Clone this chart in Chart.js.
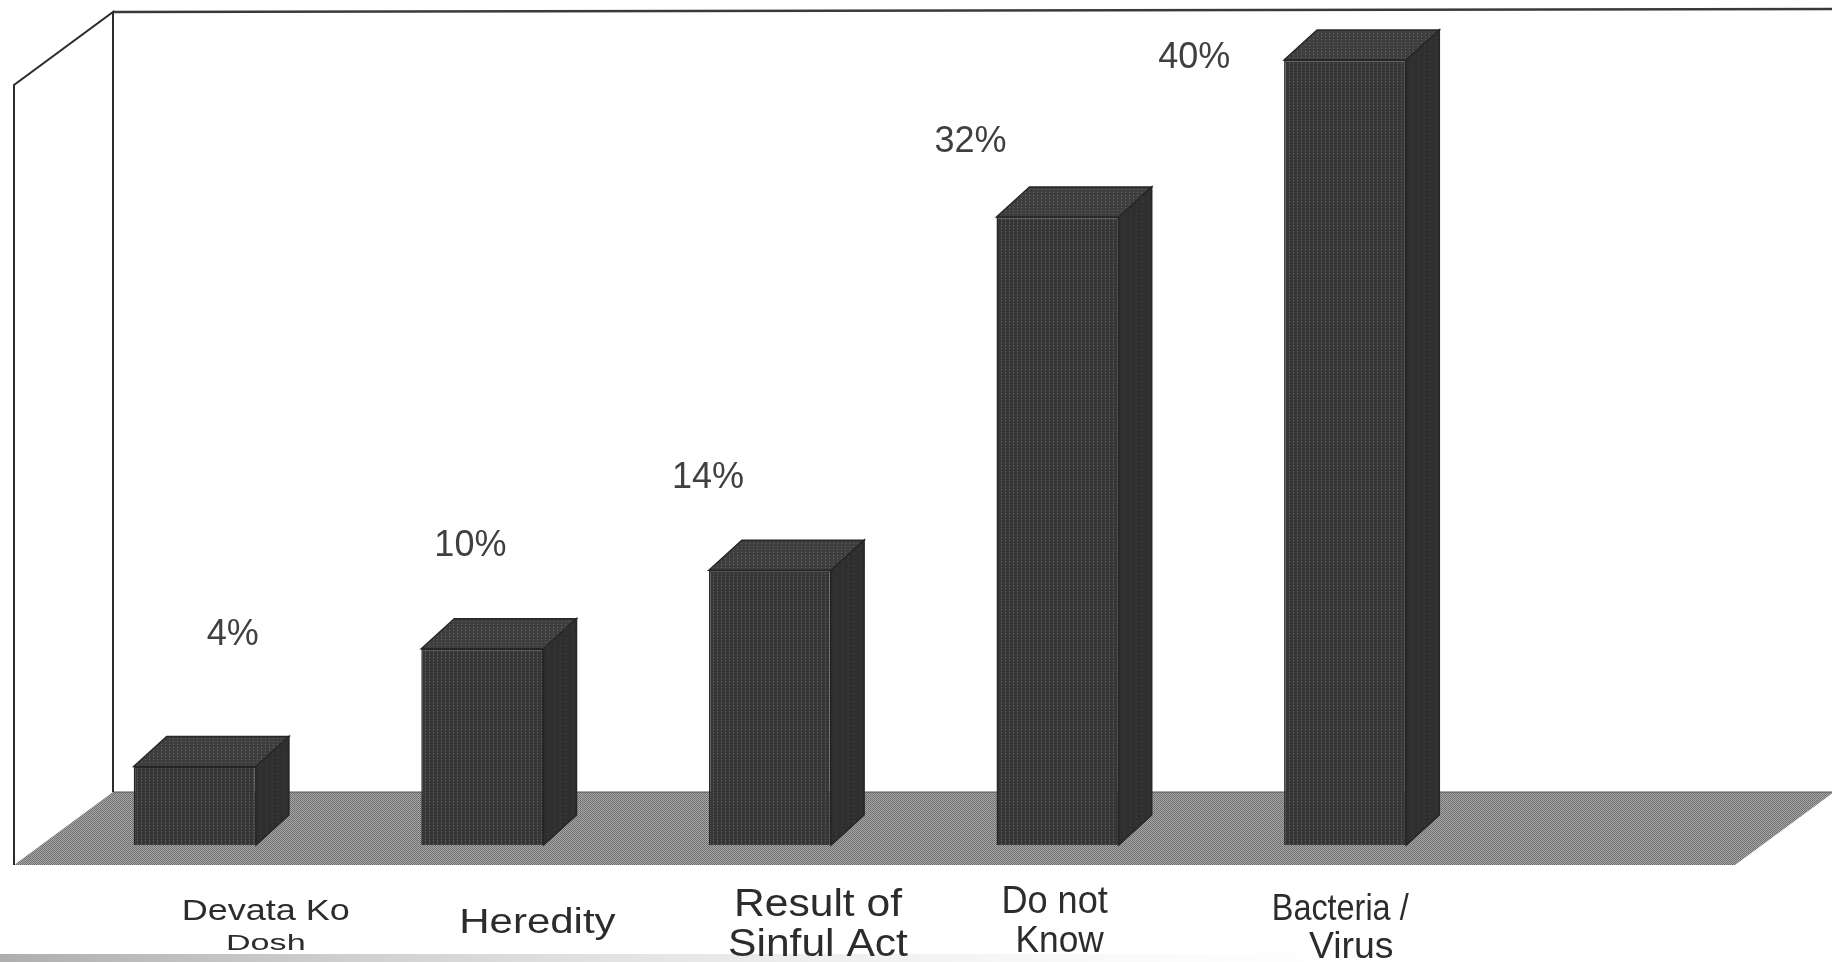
<!DOCTYPE html>
<html>
<head>
<meta charset="utf-8">
<script src="https://cdn.jsdelivr.net/npm/chart.js@4"></script>
<style>
  html, body { margin: 0; padding: 0; background: #fff; }
  #wrap { width: 1832px; height: 962px; }
</style>
</head>
<body>
<div id="wrap"><canvas id="chart" width="1832" height="962"></canvas></div>
<script>
const categories = ["Devata Ko Dosh", "Heredity", "Result of Sinful Act", "Do not Know", "Bacteria / Virus"]
const categoryLines = [["Devata Ko", "Dosh"], ["Heredity"], ["Result of", "Sinful Act"], ["Do not", "Know"], ["Bacteria /", "Virus"]]
const percentValues = [4, 10, 14, 32, 40]
const valueLabels = ["4%", "10%", "14%", "32%", "40%"]

// label placement, pixels relative to each bar (x centre / top / base)
const valueLabelOffsets = [[38, -131], [-12, -103], [-62, -92], [-87, -75], [-151, -2]]
const categoryLineStyle = [
  [{ dx: 71, dy: 75, size: 30, sx: 1.2 }, { dx: 71, dy: 105, size: 22, sx: 1.55 }],
  [{ dx: 55, dy: 88, size: 35, sx: 1.2 }],
  [{ dx: 48, dy: 71, size: 38, sx: 1.12 }, { dx: 48, dy: 111, size: 38, sx: 1.12 }],
  [{ dx: -3, dy: 68, size: 38, sx: 0.95 }, { dx: 2, dy: 107, size: 36, sx: 0.98 }],
  [{ dx: -5, dy: 75, size: 36, sx: 0.9 }, { dx: 6, dy: 113, size: 36, sx: 1.04 }],
]

// 3d look
const BAR_DEPTH = [33, -30]
const BOX_DEPTH = [99, -73]
const FONT = '"Liberation Sans", Arial, sans-serif'

function makePattern(w, h, base, dots) {
  const c = document.createElement("canvas")
  c.width = w
  c.height = h
  const g = c.getContext("2d")
  g.fillStyle = base
  g.fillRect(0, 0, w, h)
  dots.forEach(([x, y, col]) => {
    g.fillStyle = col
    g.fillRect(x, y, 1, 1)
  })
  return g.createPattern(c, "repeat")
}

const ctx0 = document.getElementById("chart").getContext("2d")
const frontFill = makePattern(4, 3, "#363636", [[1, 0, "#5e5e5e"], [1, 1, "#4a4a4a"]])
const sideFill = makePattern(6, 4, "#2f2f2f", [[2, 1, "#454545"]])
const topFill = makePattern(4, 3, "#3e3e3e", [[1, 0, "#666666"]])
const floorFill = makePattern(2, 2, "#a6a6a6", [[0, 0, "#6c6c6c"], [1, 1, "#777777"]])

function poly(ctx, pts, fill, stroke) {
  ctx.beginPath()
  ctx.moveTo(pts[0][0], pts[0][1])
  pts.slice(1).forEach((p) => ctx.lineTo(p[0], p[1]))
  ctx.closePath()
  if (fill) {
    ctx.fillStyle = fill
    ctx.fill()
  }
  if (stroke) {
    ctx.strokeStyle = stroke
    ctx.lineWidth = 1.5
    ctx.stroke()
  }
}

const box3d = {
  id: "box3d",
  beforeDatasetsDraw(chart) {
    const { ctx, scales } = chart
    const W = chart.width
    const base = scales.y.getPixelForValue(0)
    const floorFront = base + 20
    const wallTop = scales.y.getPixelForValue(40) + 25
    const leftX = 14
    const [dx, dy] = BOX_DEPTH
    ctx.save()
    // floor
    poly(ctx, [[leftX, floorFront], [leftX + dx, floorFront + dy], [W + 2, floorFront + dy], [W + 2 - dx, floorFront]], floorFill, null)
    ctx.strokeStyle = "#555"
    ctx.lineWidth = 1
    ctx.beginPath()
    ctx.moveTo(leftX + dx, floorFront + dy)
    ctx.lineTo(W, floorFront + dy)
    ctx.stroke()
    // left wall
    ctx.strokeStyle = "#2b2b2b"
    ctx.lineWidth = 2
    ctx.beginPath()
    ctx.moveTo(leftX, floorFront)
    ctx.lineTo(leftX, wallTop)
    ctx.lineTo(leftX + dx, wallTop + dy)
    ctx.lineTo(leftX + dx, floorFront + dy)
    ctx.stroke()
    // back wall top edge
    ctx.lineWidth = 2.5
    ctx.strokeStyle = "#3a3a3a"
    ctx.beginPath()
    ctx.moveTo(leftX + dx, wallTop + dy)
    ctx.lineTo(W, wallTop + dy - 3)
    ctx.stroke()
    // scan shadow at page bottom
    const g = ctx.createLinearGradient(0, 0, 1400, 0)
    g.addColorStop(0, "rgba(120,120,120,0.6)")
    g.addColorStop(1, "rgba(235,235,235,0)")
    ctx.fillStyle = g
    ctx.fillRect(0, chart.height - 8, W, 8)
    ctx.restore()
  },
  afterDatasetsDraw(chart) {
    const { ctx } = chart
    const [dx, dy] = BAR_DEPTH
    const bars = chart.getDatasetMeta(0).data
    ctx.save()
    bars.forEach((bar, i) => {
      const { x, y, base, width } = bar.getProps(["x", "y", "base", "width"], true)
      const l = x - width / 2
      const r = x + width / 2
      poly(ctx, [[l, y], [l + dx, y + dy], [r + dx, y + dy], [r, y]], topFill, "#262626")
      poly(ctx, [[r, y], [r + dx, y + dy], [r + dx, base + dy], [r, base]], sideFill, "#262626")

      // value label
      ctx.fillStyle = "#404040"
      ctx.font = "36px " + FONT
      ctx.textAlign = "center"
      ctx.textBaseline = "middle"
      const [ox, oy] = valueLabelOffsets[i]
      ctx.fillText(valueLabels[i], x + ox, y + oy)

      // category label
      ctx.fillStyle = "#2c2c2c"
      ctx.textBaseline = "alphabetic"
      categoryLines[i].forEach((line, j) => {
        const s = categoryLineStyle[i][j]
        ctx.save()
        ctx.translate(x + s.dx, base + s.dy)
        ctx.scale(s.sx, 1)
        ctx.font = s.size + "px " + FONT
        ctx.fillText(line, 0, 0)
        ctx.restore()
      })
    })
    ctx.restore()
  },
}

new Chart(ctx0, {
  type: "bar",
  data: {
    labels: categories,
    datasets: [
      {
        label: "Percent",
        data: percentValues,
        backgroundColor: frontFill,
        borderColor: "#262626",
        borderWidth: 1.5,
        categoryPercentage: 1,
        barPercentage: 0.425,
      },
    ],
  },
  options: {
    responsive: false,
    animation: false,
    devicePixelRatio: 1,
    layout: { padding: { left: 51, right: 343, top: 60, bottom: 117 } },
    plugins: {
      legend: { display: false },
      tooltip: { enabled: false },
      title: { display: false },
    },
    scales: {
      x: { display: false },
      y: { display: false, min: 0, max: 40 },
    },
  },
  plugins: [box3d],
})
</script>
</body>
</html>
